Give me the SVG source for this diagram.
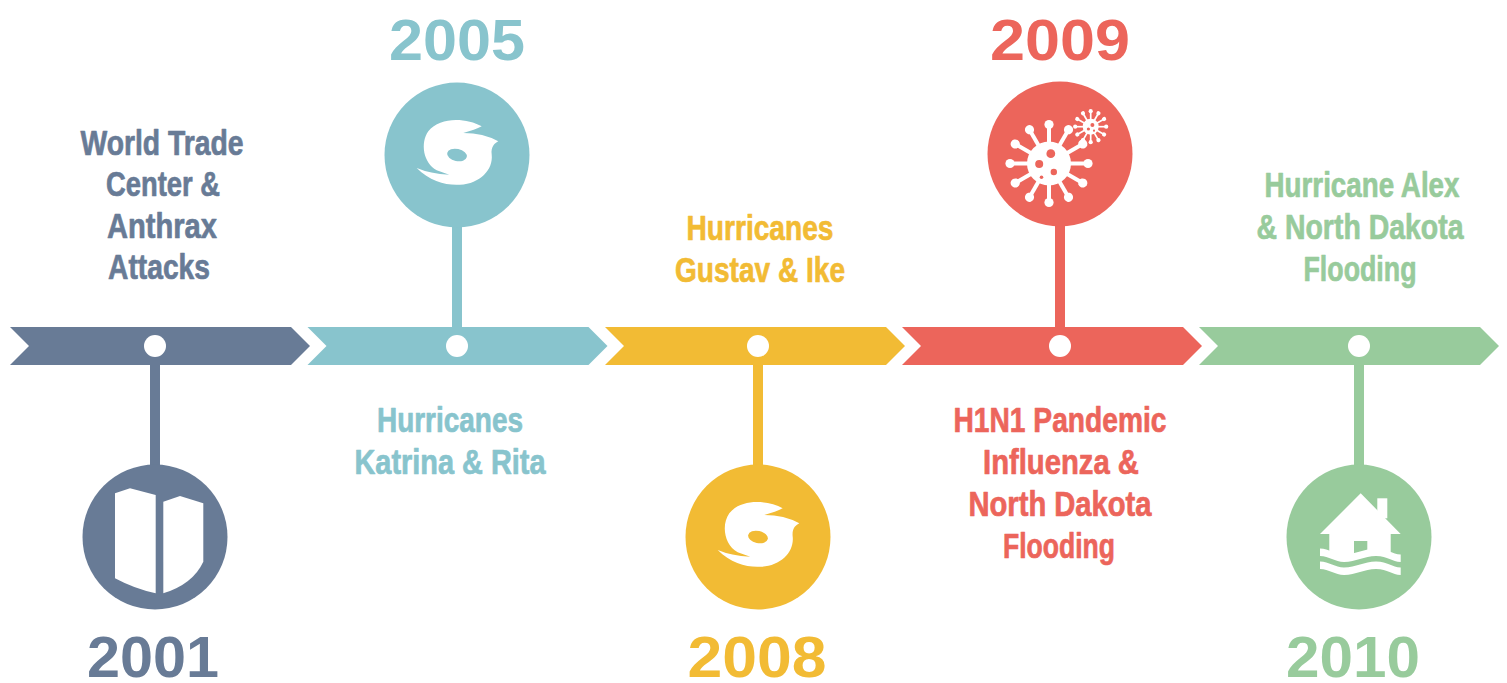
<svg xmlns="http://www.w3.org/2000/svg" xmlns:xlink="http://www.w3.org/1999/xlink" width="1507" height="683" viewBox="0 0 1507 683">
<style>
.slate{fill:#687b96}.teal{fill:#88c4cd}.yellow{fill:#f2bb34}.red{fill:#ec655b}.green{fill:#98cb9c}
.w{fill:#ffffff}
text{font-family:"Liberation Sans",Arial,sans-serif;font-weight:bold;text-anchor:middle}
.lbl{font-size:35px;stroke-width:0.7px;stroke-linejoin:round}
.year{font-size:58px}
</style>
<defs>
<path id="arrow" d="M0,327 L281,327 L300,346 L281,365 L0,365 L19,346 Z"/>
<path id="hurricane" fill="#fff" fill-rule="evenodd" d="M23.7,-28.7 C8.7,-37 -18,-38.7 -29.7,-23.7 C-38,-12 -34.7,8 -21.3,15.3 L-8.7,19.7 Q-28,18.7 -41.3,13 C-28,26.3 -11.3,30.7 2,29.7 C22,28.7 35.3,14.7 33.7,-0.3 C32.7,-8.7 37,-12 40.3,-13.7 Q25.3,-22 5.3,-22 Q17,-25.3 23.7,-28.7 Z M-10.8,-2.1 A10 6 12 1 0 8.8,2.1 A10 6 12 1 0 -10.8,-2.1 Z"/>
<g id="spikeL"><line x1="0" y1="0" x2="0" y2="-39" stroke="#fff" stroke-width="4"/><circle cx="0" cy="-39" r="4.6" fill="#fff"/></g>
<g id="spikeS"><line x1="0" y1="0" x2="0" y2="-15.5" stroke="#fff" stroke-width="1.7"/><circle cx="0" cy="-15.5" r="2.1" fill="#fff"/></g>
</defs>

<g id="connectors">
  <rect class="slate" x="150" y="346" width="10" height="124"/>
  <rect class="teal" x="452" y="220" width="10" height="126"/>
  <rect class="yellow" x="753" y="346" width="10" height="124"/>
  <rect class="red" x="1055" y="220" width="10" height="126"/>
  <rect class="green" x="1354" y="346" width="10" height="124"/>
</g>

<g id="timeline">
  <use href="#arrow" class="slate" transform="translate(10,0)"/>
  <use href="#arrow" class="teal" transform="translate(307.5,0)"/>
  <use href="#arrow" class="yellow" transform="translate(605,0)"/>
  <use href="#arrow" class="red" transform="translate(902,0)"/>
  <use href="#arrow" class="green" transform="translate(1199,0)"/>
  <circle class="w" cx="155" cy="346" r="11"/>
  <circle class="w" cx="457" cy="346" r="11"/>
  <circle class="w" cx="758" cy="346" r="11"/>
  <circle class="w" cx="1060" cy="346" r="11"/>
  <circle class="w" cx="1359" cy="346" r="11"/>
</g>

<g id="node-2001">
  <text class="lbl" fill="#687b96" stroke="#687b96"><tspan x="162" y="155" textLength="163" lengthAdjust="spacingAndGlyphs">World Trade</tspan><tspan x="163" y="196" textLength="114" lengthAdjust="spacingAndGlyphs">Center &amp;</tspan><tspan x="162" y="238" textLength="110" lengthAdjust="spacingAndGlyphs">Anthrax</tspan><tspan x="159" y="279" textLength="102" lengthAdjust="spacingAndGlyphs">Attacks</tspan></text>
  <circle class="slate" cx="155" cy="537" r="72.5"/>
  <g transform="translate(155,537)" fill="#fff">
    <path d="M-40,-43.7 L-25,-48.7 L0.7,-42 L0.7,56.3 Q-20,52 -40,41.3 Z"/>
    <path d="M8.3,-35.3 L25,-41 L48.3,-33.7 L48.3,24.7 Q38,47 8.3,56.3 Z"/>
  </g>
  <text class="year" fill="#687b96" x="153" y="677" textLength="132" lengthAdjust="spacingAndGlyphs">2001</text>
</g>

<g id="node-2005">
  <text class="year" fill="#88c4cd" x="457" y="60" textLength="136" lengthAdjust="spacingAndGlyphs">2005</text>
  <circle class="teal" cx="457" cy="155" r="72.5"/>
  <use href="#hurricane" transform="translate(458,155)"/>
  <text class="lbl" fill="#88c4cd" stroke="#88c4cd"><tspan x="450" y="432" textLength="146" lengthAdjust="spacingAndGlyphs">Hurricanes</tspan><tspan x="450" y="474" textLength="191" lengthAdjust="spacingAndGlyphs">Katrina &amp; Rita</tspan></text>
</g>

<g id="node-2008">
  <text class="lbl" fill="#f2bb34" stroke="#f2bb34"><tspan x="760" y="240" textLength="147" lengthAdjust="spacingAndGlyphs">Hurricanes</tspan><tspan x="760" y="282" textLength="170" lengthAdjust="spacingAndGlyphs">Gustav &amp; Ike</tspan></text>
  <circle class="yellow" cx="758" cy="537" r="72.5"/>
  <use href="#hurricane" transform="translate(759,537)"/>
  <text class="year" fill="#f2bb34" x="757" y="677" textLength="139" lengthAdjust="spacingAndGlyphs">2008</text>
</g>

<g id="node-2009">
  <text class="year" fill="#ec655b" x="1060" y="60" textLength="140" lengthAdjust="spacingAndGlyphs">2009</text>
  <circle class="red" cx="1060" cy="154" r="72.5"/>
  <g transform="translate(1049,163.5)">
    <use href="#spikeL" transform="rotate(0)"/><use href="#spikeL" transform="rotate(30)"/><use href="#spikeL" transform="rotate(60)"/><use href="#spikeL" transform="rotate(90)"/><use href="#spikeL" transform="rotate(120)"/><use href="#spikeL" transform="rotate(150)"/><use href="#spikeL" transform="rotate(180)"/><use href="#spikeL" transform="rotate(210)"/><use href="#spikeL" transform="rotate(240)"/><use href="#spikeL" transform="rotate(270)"/><use href="#spikeL" transform="rotate(300)"/><use href="#spikeL" transform="rotate(330)"/>
    <circle r="22" fill="#fff"/>
    <circle class="red" cx="1.8" cy="-9.8" r="4.4"/>
    <circle class="red" cx="-9.8" cy="0.5" r="4"/>
    <circle class="red" cx="4.8" cy="8.5" r="3.2"/>
    <circle class="red" cx="-7.5" cy="13.8" r="1.8"/>
  </g>
  <g transform="translate(1090.7,126.7)">
    <use href="#spikeS" transform="rotate(0)"/><use href="#spikeS" transform="rotate(30)"/><use href="#spikeS" transform="rotate(60)"/><use href="#spikeS" transform="rotate(90)"/><use href="#spikeS" transform="rotate(120)"/><use href="#spikeS" transform="rotate(150)"/><use href="#spikeS" transform="rotate(180)"/><use href="#spikeS" transform="rotate(210)"/><use href="#spikeS" transform="rotate(240)"/><use href="#spikeS" transform="rotate(270)"/><use href="#spikeS" transform="rotate(300)"/><use href="#spikeS" transform="rotate(330)"/>
    <circle r="8" fill="#fff"/>
    <circle class="red" cx="1.7" cy="-1.7" r="2"/>
    <circle class="red" cx="-2.3" cy="2.3" r="1.6"/>
    <circle class="red" cx="3.3" cy="4" r="1.1"/>
  </g>
  <text class="lbl" fill="#ec655b" stroke="#ec655b"><tspan x="1060" y="432" textLength="213" lengthAdjust="spacingAndGlyphs">H1N1 Pandemic</tspan><tspan x="1061" y="474" textLength="156" lengthAdjust="spacingAndGlyphs">Influenza &amp;</tspan><tspan x="1060" y="516" textLength="183" lengthAdjust="spacingAndGlyphs">North Dakota</tspan><tspan x="1059" y="558" textLength="112" lengthAdjust="spacingAndGlyphs">Flooding</tspan></text>
</g>

<g id="node-2010">
  <text class="lbl" fill="#98cb9c" stroke="#98cb9c"><tspan x="1362" y="197" textLength="195" lengthAdjust="spacingAndGlyphs">Hurricane Alex</tspan><tspan x="1360" y="239" textLength="207" lengthAdjust="spacingAndGlyphs">&amp; North Dakota</tspan><tspan x="1360" y="281" textLength="113" lengthAdjust="spacingAndGlyphs">Flooding</tspan></text>
  <circle class="green" cx="1359" cy="537" r="72.5"/>
  <g transform="translate(1359,537)">
    <rect x="18.3" y="-38.7" width="10" height="20" fill="#fff"/>
    <path fill="#fff" d="M1.7,-43.7 L41.7,-3 L31.7,-3 L31.7,18.5 L-29.7,18.5 L-29.7,-3 L-39,-3 Z"/>
    <rect class="green" x="-5" y="4" width="13.3" height="14.5"/>
    <path fill="#fff" d="M-39,11.5 C-30,11.5 -24,17.5 -15,17.5 C-3,17.5 5,11.5 17,11.5 C29,11.5 33,17.5 41.7,17.5 L41.7,25 C33,25 29,19 17,19 C5,19 -3,25 -15,25 C-24,25 -30,19 -39,19 Z"/>
    <path fill="#fff" d="M-39,24.5 C-30,24.5 -24,30.5 -15,30.5 C-3,30.5 5,24.5 17,24.5 C29,24.5 33,30.5 41.7,30.5 L41.7,38 C33,38 29,32 17,32 C5,32 -3,38 -15,38 C-24,38 -30,32 -39,32 Z"/>
  </g>
  <text class="year" fill="#98cb9c" x="1353" y="677" textLength="134" lengthAdjust="spacingAndGlyphs">2010</text>
</g>
</svg>
